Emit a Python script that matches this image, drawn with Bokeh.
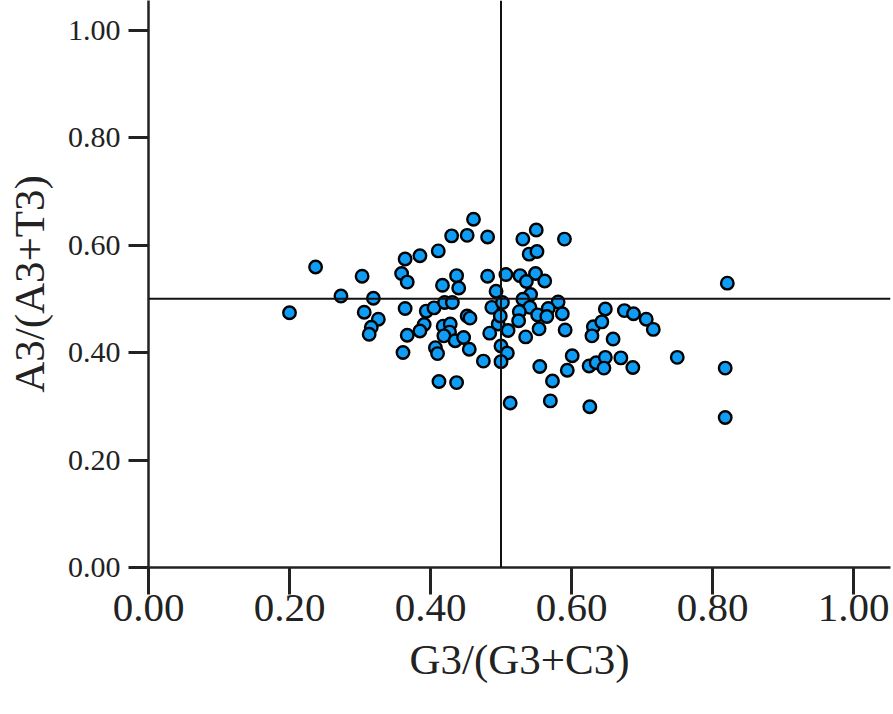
from bokeh.plotting import figure
from bokeh.models import Span, FixedTicker, NumeralTickFormatter, Range1d
from bokeh.embed import file_html
from bokeh.resources import INLINE

# G3/(G3+C3)
gc3 = [0.200, 0.237, 0.273, 0.303, 0.319, 0.306, 0.326, 0.316, 0.313,
       0.364, 0.385, 0.411, 0.359, 0.367, 0.417, 0.430, 0.364, 0.394, 0.405,
       0.420, 0.391, 0.385, 0.367, 0.361, 0.418, 0.428, 0.427, 0.419, 0.407,
       0.410, 0.412, 0.437, 0.435, 0.447, 0.455, 0.475, 0.431, 0.452, 0.456,
       0.461, 0.452, 0.481, 0.437, 0.440, 0.481, 0.493, 0.487, 0.502, 0.496,
       0.484, 0.500, 0.509, 0.500, 0.513, 0.570, 0.507, 0.527, 0.549, 0.536,
       0.562, 0.542, 0.531, 0.550, 0.531, 0.540, 0.551, 0.590, 0.581, 0.541,
       0.526, 0.567, 0.552, 0.565, 0.587, 0.525, 0.510, 0.535, 0.554, 0.591,
       0.555, 0.573, 0.499, 0.601, 0.594, 0.631, 0.643, 0.629, 0.659, 0.648,
       0.675, 0.688, 0.706, 0.716, 0.625, 0.635, 0.648, 0.646, 0.670, 0.687,
       0.750, 0.818, 0.821, 0.818, 0.626]
# A3/(A3+T3)
at3 = [0.474, 0.559, 0.505, 0.542, 0.501, 0.475, 0.462, 0.447, 0.434,
       0.574, 0.580, 0.589, 0.547, 0.531, 0.525, 0.617, 0.482, 0.477, 0.483,
       0.493, 0.452, 0.440, 0.432, 0.400, 0.449, 0.453, 0.438, 0.431, 0.409,
       0.398, 0.346, 0.344, 0.422, 0.428, 0.406, 0.384, 0.493, 0.468, 0.464,
       0.648, 0.618, 0.615, 0.543, 0.520, 0.542, 0.514, 0.484, 0.493, 0.453,
       0.436, 0.412, 0.399, 0.383, 0.306, 0.310, 0.545, 0.543, 0.547, 0.532,
       0.533, 0.508, 0.499, 0.628, 0.611, 0.583, 0.588, 0.611, 0.494, 0.484,
       0.476, 0.482, 0.470, 0.467, 0.472, 0.459, 0.441, 0.429, 0.444, 0.442,
       0.374, 0.347, 0.468, 0.394, 0.367, 0.448, 0.457, 0.431, 0.425, 0.481,
       0.478, 0.472, 0.462, 0.443, 0.375, 0.381, 0.391, 0.371, 0.390, 0.372,
       0.391, 0.371, 0.529, 0.279, 0.299]

ticks = [0.0, 0.2, 0.4, 0.6, 0.8, 1.0]
x_label = "G3/(G3+C3)"
y_label = "A3/(A3+T3)"
FONT = "Liberation Serif"

p = figure(width=891, height=706, output_backend="svg", toolbar_location=None,
           x_range=Range1d(0, 742 / 705), y_range=Range1d(0, 567 / 537.5),
           min_border_left=148, min_border_right=1, min_border_top=0,
           min_border_bottom=139)
p.outline_line_color = None
p.xgrid.visible = False
p.ygrid.visible = False
p.background_fill_color = "white"

p.add_layout(Span(location=0.5, dimension="height", line_color="#111111", line_width=2))
p.add_layout(Span(location=0.5, dimension="width", line_color="#111111", line_width=2))

p.scatter(gc3, at3, size=12.5, fill_color="#0f9cf5", line_color="black", line_width=2.4)

for ax in (p.xaxis[0], p.yaxis[0]):
    ax.ticker = FixedTicker(ticks=ticks)
    ax.formatter = NumeralTickFormatter(format="0.00")
    ax.minor_tick_line_color = None
    ax.axis_line_color = "#222222"
    ax.axis_line_width = 2.5
    ax.major_tick_line_color = "#222222"
    ax.major_tick_line_width = 3
    ax.major_tick_in = 0
    ax.major_label_text_font = FONT
    ax.major_label_text_color = "#222222"
    ax.axis_label_text_font = FONT
    ax.axis_label_text_font_style = "normal"
    ax.axis_label_text_color = "#222222"
    ax.axis_label_text_font_size = "43px"

p.xaxis.axis_label = x_label
p.yaxis.axis_label = y_label
p.xaxis.major_tick_out = 27
p.yaxis.major_tick_out = 20
p.xaxis.major_label_text_font_size = "41px"
p.yaxis.major_label_text_font_size = "30px"
p.xaxis.major_label_standoff = 0
p.yaxis.major_label_standoff = 8
p.xaxis.axis_label_standoff = 12
p.yaxis.axis_label_standoff = 12

open("out.html", "w").write(file_html(p, INLINE))
